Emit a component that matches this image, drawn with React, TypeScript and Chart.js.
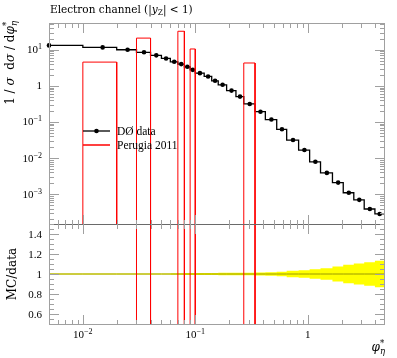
import React, { useEffect, useRef } from 'react';
import { Chart, registerables } from 'chart.js';

Chart.register(...registerables);

// ---------------- data ----------------
const BIN_EDGES = [0, 0.01, 0.02, 0.03, 0.04, 0.05, 0.06, 0.07, 0.08, 0.09, 0.1, 0.12, 0.14, 0.16, 0.19, 0.23, 0.27, 0.34, 0.42, 0.53, 0.65, 0.83, 1.04, 1.3, 1.66, 2.07, 2.57, 3.18, 3.96, 4.77];
const DATA_VALUES = [13.2, 11.6, 10.0, 8.5, 7.0, 5.75, 4.64, 4.0, 3.37, 2.78, 2.25, 1.82, 1.38, 1.07, 0.74, 0.505, 0.316, 0.193, 0.117, 0.0627, 0.0316, 0.0167, 0.0079, 0.0039, 0.0021, 0.0011, 0.0007, 0.00039, 0.000285];
const DATA_REL_ERR = [0.005, 0.005, 0.005, 0.005, 0.006, 0.006, 0.007, 0.008, 0.009, 0.01, 0.01, 0.011, 0.011, 0.012, 0.012, 0.013, 0.013, 0.016, 0.018, 0.023, 0.032, 0.038, 0.047, 0.057, 0.075, 0.092, 0.105, 0.118, 0.133];
const MC_VALUES = [0, 4.55, 0, 21, 0, 0, 0, 32.5, 0, 10.5, 0, 0, 0, 0, 0, 0, 4.3, 0, 0, 0, 0, 0, 0, 0, 0, 0, 0, 0, 0];

const DATA_LABEL = 'DØ data';
const MC_LABEL = 'Perugia 2011';

const X_RANGE = [0.005, 4.77];
const Y_RANGE = [1.5e-4, 55];
const R_RANGE = [0.5, 1.5];

const X_MAJOR_TICKS = [0.01, 0.1, 1];
const X_TICK_LABELS = [['10', '−2'], ['10', '−1'], ['1', '']];
const Y_MAJOR_TICKS = [1e-3, 1e-2, 1e-1, 1, 10];
const Y_TICK_LABELS = [['10', '−3'], ['10', '−2'], ['10', '−1'], ['1', ''], ['10', '1']];
const R_MAJOR_TICKS = [0.6, 0.8, 1, 1.2, 1.4];
const R_TICK_LABELS = ['0.6', '0.8', '1', '1.2', '1.4'];
const R_MINOR_STEP = 0.05;

// ---------------- style ----------------
const TIMES = '"Liberation Serif", serif';
const DJV = '"DejaVu Serif", serif';
const FN = `11px ${TIMES}`;
const FS = `8px ${TIMES}`;
const FT = `10.5px ${DJV}`;
const FTI = `italic 10.5px ${DJV}`;
const FTS = `7.5px ${DJV}`;
const FL = `12px ${DJV}`;
const FLI = `italic 12px ${DJV}`;
const FLS = `8.5px ${DJV}`;
const FLSI = `italic 8.5px ${DJV}`;
const FLEG = `11.5px ${TIMES}`;
const FRAME = '#a0a0a0';
const SEP = '#6a6a6a';
const W = 397;
const H = 358;

type Seg = { t: string; font: string; dy?: number; adv?: boolean };

function richWidth(ctx: CanvasRenderingContext2D, segs: Seg[]) {
  let w = 0;
  for (const s of segs) {
    if (s.adv === false) continue;
    ctx.font = s.font;
    w += ctx.measureText(s.t).width;
  }
  return w;
}

function drawRich(ctx: CanvasRenderingContext2D, segs: Seg[], x: number, y: number, align: 'left' | 'right' | 'center') {
  const w = richWidth(ctx, segs);
  let cx = align === 'left' ? x : align === 'right' ? x - w : x - w / 2;
  ctx.textAlign = 'left';
  ctx.textBaseline = 'alphabetic';
  for (const s of segs) {
    ctx.font = s.font;
    ctx.fillText(s.t, cx, y + (s.dy || 0));
    if (s.adv !== false) cx += ctx.measureText(s.t).width;
  }
}

function tickLabelSegs(l: string[]): Seg[] {
  const segs: Seg[] = [{ t: l[0], font: FN }];
  if (l[1]) segs.push({ t: l[1], font: FS, dy: -4 });
  return segs;
}

function logMinors(min: number, max: number) {
  const out: number[] = [];
  for (let n = Math.floor(Math.log10(min)) - 1; n <= Math.ceil(Math.log10(max)); n++) {
    for (let k = 1; k <= 9; k++) {
      const v = k * Math.pow(10, n);
      if (v >= min * 0.9999 && v <= max * 1.0001) out.push(v);
    }
  }
  return out;
}

const snap = (p: number) => Math.round(p) + 0.5;

function steps(values: number[], floor: number) {
  const pts: { x: number; y: number }[] = [];
  for (let i = 0; i < values.length; i++) {
    const y = Math.max(values[i], floor);
    pts.push({ x: Math.max(BIN_EDGES[i], 1e-4), y }, { x: BIN_EDGES[i + 1], y });
  }
  return pts;
}

function isMajor(v: number, majors: number[]) {
  return majors.some((m) => Math.abs(v - m) / m < 1e-6);
}

function drawXTicks(ctx: CanvasRenderingContext2D, chart: any, top: boolean, bottom: boolean) {
  const a = chart.chartArea;
  const xs = chart.scales.x;
  for (const v of logMinors(X_RANGE[0], X_RANGE[1])) {
    const len = isMajor(v, X_MAJOR_TICKS) ? 10 : 5;
    const px = snap(xs.getPixelForValue(v));
    ctx.beginPath();
    if (top) { ctx.moveTo(px, a.top); ctx.lineTo(px, a.top + len); }
    if (bottom) { ctx.moveTo(px, a.bottom + 1); ctx.lineTo(px, a.bottom + 1 - len); }
    ctx.stroke();
  }
}

const upperDecor = {
  id: 'upperDecor',
  afterDraw(chart: any) {
    const ctx: CanvasRenderingContext2D = chart.ctx;
    const a = chart.chartArea;
    const ys = chart.scales.y;
    ctx.save();
    ctx.strokeStyle = FRAME;
    ctx.lineWidth = 1;
    ctx.strokeRect(a.left + 0.5, a.top + 0.5, a.right - a.left, a.bottom - a.top);
    drawXTicks(ctx, chart, true, true);
    for (const v of logMinors(Y_RANGE[0], Y_RANGE[1])) {
      const len = isMajor(v, Y_MAJOR_TICKS) ? 10 : 5;
      const py = snap(ys.getPixelForValue(v));
      ctx.beginPath();
      ctx.moveTo(a.left, py); ctx.lineTo(a.left + len, py);
      ctx.moveTo(a.right + 1, py); ctx.lineTo(a.right + 1 - len, py);
      ctx.stroke();
    }
    ctx.fillStyle = '#000';
    Y_MAJOR_TICKS.forEach((v, i) => {
      const py = ys.getPixelForValue(v);
      drawRich(ctx, tickLabelSegs(Y_TICK_LABELS[i]), a.left - 7, py + 3.5, 'right');
    });
    // title
    drawRich(ctx, [
      { t: 'Electron channel (|', font: FT },
      { t: 'y', font: FTI },
      { t: 'Z', font: FTS, dy: 2 },
      { t: '| < 1)', font: FT },
    ], a.left + 1, 12.5, 'left');
    // y label
    ctx.save();
    ctx.translate(14, a.top - 2);
    ctx.rotate(-Math.PI / 2);
    drawRich(ctx, [
      { t: '1', font: FL },
      { t: ' / ', font: FL },
      { t: 'σ', font: FLI },
      { t: '  d', font: FL },
      { t: 'σ', font: FLI },
      { t: ' / ', font: FL },
      { t: 'd', font: FL },
      { t: 'φ', font: FLI },
      { t: '*', font: FLS, dy: -5, adv: false },
      { t: 'η', font: FLSI, dy: 3 },
    ], 0, 0, 'right');
    ctx.restore();
    // legend
    const ds = chart.data.datasets;
    const lx0 = 83, lx1 = 110, tx = 117;
    ctx.strokeStyle = '#000000';
    ctx.lineWidth = 1.3;
    ctx.beginPath(); ctx.moveTo(lx0, 131); ctx.lineTo(lx1, 131); ctx.stroke();
    ctx.beginPath(); ctx.arc((lx0 + lx1) / 2, 131, 2.3, 0, Math.PI * 2); ctx.fillStyle = '#000'; ctx.fill();
    ctx.strokeStyle = ds[0].borderColor;
    ctx.lineWidth = 1.5;
    ctx.beginPath(); ctx.moveTo(lx0, 145); ctx.lineTo(lx1, 145); ctx.stroke();
    ctx.fillStyle = '#000';
    ctx.font = FLEG;
    ctx.textAlign = 'left';
    ctx.textBaseline = 'alphabetic';
    ctx.fillText(ds[1].label, tx, 135);
    ctx.fillText(ds[0].label, tx, 149);
    ctx.restore();
  },
};

const lowerDecor = {
  id: 'lowerDecor',
  afterDraw(chart: any) {
    const ctx: CanvasRenderingContext2D = chart.ctx;
    const a = chart.chartArea;
    const xs = chart.scales.x;
    const ys = chart.scales.y;
    ctx.save();
    ctx.strokeStyle = FRAME;
    ctx.lineWidth = 1;
    ctx.strokeRect(a.left + 0.5, a.top + 0.5, a.right - a.left, a.bottom - a.top);
    ctx.strokeStyle = SEP;
    ctx.beginPath(); ctx.moveTo(a.left, a.top + 0.5); ctx.lineTo(a.right + 1, a.top + 0.5); ctx.stroke();
    ctx.strokeStyle = FRAME;
    drawXTicks(ctx, chart, true, true);
    const nMinor = Math.round((R_RANGE[1] - R_RANGE[0]) / R_MINOR_STEP);
    for (let i = 0; i <= nMinor; i++) {
      const v = R_RANGE[0] + i * R_MINOR_STEP;
      const major = R_MAJOR_TICKS.some((m) => Math.abs(m - v) < 1e-6);
      const len = major ? 10 : 5;
      const py = snap(ys.getPixelForValue(v));
      ctx.beginPath();
      ctx.moveTo(a.left, py); ctx.lineTo(a.left + len, py);
      ctx.moveTo(a.right + 1, py); ctx.lineTo(a.right + 1 - len, py);
      ctx.stroke();
    }
    ctx.fillStyle = '#000';
    R_MAJOR_TICKS.forEach((v, i) => {
      const py = ys.getPixelForValue(v);
      drawRich(ctx, [{ t: R_TICK_LABELS[i], font: FN }], a.left - 7, py + 3.5, 'right');
    });
    X_MAJOR_TICKS.forEach((v, i) => {
      const px = xs.getPixelForValue(v);
      drawRich(ctx, tickLabelSegs(X_TICK_LABELS[i]), px, a.bottom + 13.5, 'center');
    });
    // x title
    drawRich(ctx, [
      { t: 'φ', font: FLI },
      { t: '*', font: FLS, dy: -5, adv: false },
      { t: 'η', font: FLSI, dy: 3 },
    ], a.right + 1, a.bottom + 27, 'right');
    // y label
    ctx.save();
    ctx.translate(16, (a.top + a.bottom) / 2);
    ctx.rotate(-Math.PI / 2);
    drawRich(ctx, [{ t: 'MC/data', font: FL }], 0, 0, 'center');
    ctx.restore();
    ctx.restore();
  },
};

export default function App() {
  const upRef = useRef<HTMLCanvasElement>(null);
  const loRef = useRef<HTMLCanvasElement>(null);

  useEffect(() => {
    const centers = DATA_VALUES.map((v, i) => ({ x: (BIN_EDGES[i] + BIN_EDGES[i + 1]) / 2, y: v }));
    const common: any = {
      responsive: false,
      animation: false,
      events: [],
      devicePixelRatio: 1,
      plugins: { legend: { display: false }, tooltip: { enabled: false }, title: { display: false } },
    };
    const upper = new Chart(upRef.current!, {
      type: 'line',
      data: {
        datasets: [
          { label: MC_LABEL, data: steps(MC_VALUES, 1e-12), borderColor: '#ff0000', borderWidth: 1, pointRadius: 0, fill: false, order: 0 } as any,
          { label: DATA_LABEL, data: centers, showLine: false, pointRadius: 2.3, pointBackgroundColor: '#000', pointBorderWidth: 0, borderColor: '#000', order: 1, clip: 6 } as any,
          { label: 'data hist', data: steps(DATA_VALUES, 1e-12), borderColor: '#000', borderWidth: 1.3, pointRadius: 0, fill: false, order: 2 } as any,
        ],
      },
      options: {
        ...common,
        layout: { padding: { left: 49, right: W - 384, top: 23, bottom: H - 224 } },
        scales: {
          x: { type: 'logarithmic', display: false, min: X_RANGE[0], max: X_RANGE[1] },
          y: { type: 'logarithmic', display: false, min: Y_RANGE[0], max: Y_RANGE[1] },
        },
      },
      plugins: [upperDecor],
    });

    const ones = DATA_VALUES.map(() => 1);
    const mcRatio = MC_VALUES.map((m, i) => m / DATA_VALUES[i]);
    const lower = new Chart(loRef.current!, {
      type: 'line',
      data: {
        datasets: [
          { label: 'MC ratio', data: steps(mcRatio, R_RANGE[0] - 1), borderColor: '#ff0000', borderWidth: 1, pointRadius: 0, fill: false, spanGaps: true, order: 0 } as any,
          { label: 'data ratio', data: steps(ones, 0), borderColor: '#9a9a00', borderWidth: 1, pointRadius: 0, fill: false, order: 1 } as any,
          { label: 'band hi', data: steps(DATA_REL_ERR.map((e) => 1 + e), 0), borderWidth: 0, borderColor: 'rgba(0,0,0,0)', backgroundColor: '#ffff00', pointRadius: 0, fill: '+1', order: 2 } as any,
          { label: 'band lo', data: steps(DATA_REL_ERR.map((e) => 1 - e), 0), borderWidth: 0, borderColor: 'rgba(0,0,0,0)', pointRadius: 0, fill: false, order: 3 } as any,
        ],
      },
      options: {
        ...common,
        layout: { padding: { left: 49, right: W - 384, top: 224, bottom: H - 324 } },
        scales: {
          x: { type: 'logarithmic', display: false, min: X_RANGE[0], max: X_RANGE[1] },
          y: { type: 'linear', display: false, min: R_RANGE[0], max: R_RANGE[1] },
        },
      },
      plugins: [lowerDecor],
    });

    return () => {
      upper.destroy();
      lower.destroy();
    };
  }, []);

  const cs: React.CSSProperties = { position: 'absolute', left: 0, top: 0, width: W, height: H };
  return (
    <div style={{ position: 'absolute', left: 0, top: 0, width: W, height: H, background: '#fff' }}>
      <canvas ref={upRef} width={W} height={H} style={cs} />
      <canvas ref={loRef} width={W} height={H} style={cs} />
    </div>
  );
}
